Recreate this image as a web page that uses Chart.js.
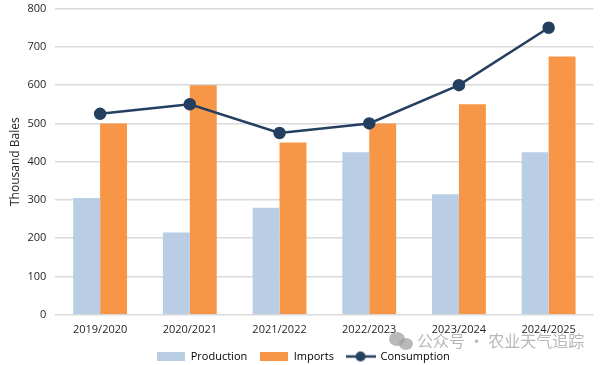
<!DOCTYPE html>
<html>
<head>
<meta charset="utf-8">
<script src="https://cdn.jsdelivr.net/npm/chart.js@4.4.1/dist/chart.umd.min.js"></script>
<style>
  html, body { margin: 0; padding: 0; background: #fff; }
  #wrap { width: 601px; height: 365px; }
</style>
</head>
<body>
<div id="wrap"><canvas id="myChart"></canvas></div>
<script>
const seasons = ['2019/2020', '2020/2021', '2021/2022', '2022/2023', '2023/2024', '2024/2025'];
const production = [305, 215, 280, 425, 315, 425];
const imports = [500, 600, 450, 500, 550, 675];
const consumption = [525, 550, 475, 500, 600, 750];

const navy = '#243F60';
const orange = '#F79646';
const lightBlue = '#B9CDE5';

// little pictures for the legend symbols
function boxIcon(color) {
    const c = document.createElement('canvas');
    c.width = 28; c.height = 9;
    const g = c.getContext('2d');
    g.fillStyle = color;
    g.fillRect(0, 0, 28, 9);
    return c;
}
function lineIcon() {
    const c = document.createElement('canvas');
    c.width = 30; c.height = 12;
    const g = c.getContext('2d');
    g.strokeStyle = navy;
    g.lineWidth = 2.5;
    g.beginPath(); g.moveTo(0, 6); g.lineTo(30, 6); g.stroke();
    g.fillStyle = navy;
    g.beginPath(); g.arc(15, 6, 5, 0, Math.PI * 2); g.fill();
    return c;
}
const icons = [boxIcon(lightBlue), boxIcon(orange), lineIcon()];

// watermark left on the original picture
const watermark = {
    id: 'watermark',
    afterDraw(chart) {
        const g = chart.ctx;
        g.save();
        g.fillStyle = 'rgba(160,160,160,0.75)';
        g.beginPath(); g.ellipse(397, 339, 8, 7, 0, 0, Math.PI * 2); g.fill();
        g.beginPath(); g.ellipse(406, 344, 7, 6, 0, 0, Math.PI * 2); g.fill();
        g.font = '16px "Noto Sans CJK SC"';
        g.textBaseline = 'middle';
        g.fillText('公众号 · 农业天气追踪', 417, 341);
        g.restore();
    }
};

const ctx = document.getElementById('myChart').getContext('2d');
const myChart = new Chart(ctx, {
    data: {
        labels: seasons,
        datasets: [{
            type: 'line',
            label: 'Consumption',
            data: consumption,
            borderColor: navy,
            backgroundColor: navy,
            borderWidth: 2.5,
            pointRadius: 5,
            pointHoverRadius: 5,
            tension: 0,
            order: 0
        }, {
            type: 'bar',
            label: 'Production',
            data: production,
            backgroundColor: lightBlue,
            categoryPercentage: 0.6,
            barPercentage: 1,
            order: 1
        }, {
            type: 'bar',
            label: 'Imports',
            data: imports,
            backgroundColor: orange,
            categoryPercentage: 0.6,
            barPercentage: 1,
            order: 1
        }]
    },
    options: {
        responsive: true,
        maintainAspectRatio: false,
        animation: false,
        layout: { padding: { left: 8, right: 3, top: 0, bottom: -7 } },
        plugins: {
            tooltip: { enabled: false },
            legend: {
                position: 'bottom',
                labels: {
                    usePointStyle: true,
                    pointStyleWidth: 29,
                    padding: 12,
                    color: '#262626',
                    font: { family: 'Open Sans', size: 11 },
                    generateLabels: function () {
                        const names = ['Production', 'Imports', 'Consumption'];
                        return names.map((n, i) => ({
                            text: n,
                            pointStyle: icons[i],
                            fillStyle: 'transparent',
                            strokeStyle: 'transparent',
                            lineWidth: 0,
                            hidden: false,
                            datasetIndex: i
                        }));
                    }
                }
            }
        },
        scales: {
            x: {
                grid: { display: false },
                border: { display: false },
                ticks: {
                    color: '#262626',
                    font: { family: 'Open Sans', size: 11 },
                    padding: 0
                },
                afterFit: function (scale) { scale.height += 3; }
            },
            y: {
                min: 0,
                max: 800,
                ticks: {
                    stepSize: 100,
                    color: '#262626',
                    font: { family: 'Open Sans', size: 11 },
                    padding: 2
                },
                grid: {
                    color: '#D9D9D9',
                    lineWidth: 1.5,
                    drawTicks: true,
                    tickLength: 7,
                    tickColor: 'rgba(0,0,0,0)'
                },
                border: { display: false },
                title: {
                    display: true,
                    text: 'Thousand Bales',
                    color: '#262626',
                    font: { family: 'Open Sans', size: 12 },
                    padding: { top: 0, bottom: 3 }
                }
            }
        }
    },
    plugins: [watermark]
});
</script>
</body>
</html>
